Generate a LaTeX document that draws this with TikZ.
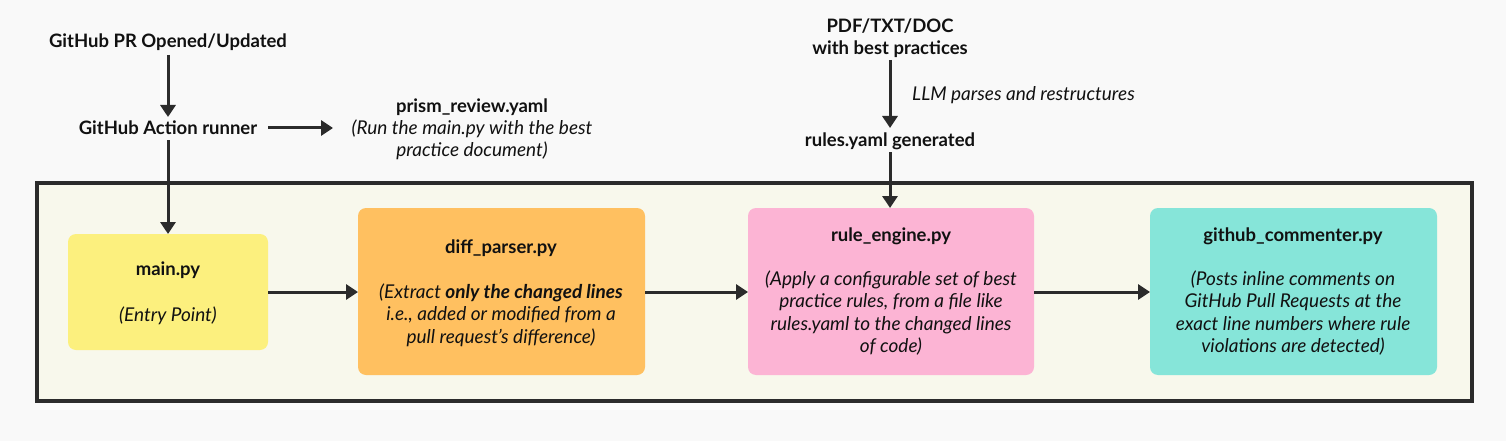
\documentclass[tikz,border=0pt]{standalone}
\usepackage{fontspec}
\setmainfont{Lato}
\usetikzlibrary{arrows.meta}
\definecolor{bgc}{HTML}{F9F9F9}
\definecolor{framec}{HTML}{2B2B2B}
\definecolor{cream}{HTML}{F8F8EC}
\definecolor{yel}{HTML}{FCF07E}
\definecolor{ora}{HTML}{FFC060}
\definecolor{pnk}{HTML}{FCB4D4}
\definecolor{tea}{HTML}{86E5D9}
\definecolor{txt}{HTML}{111111}
\tikzset{
  lbl/.style={font=\fontsize{18.5}{22}\selectfont\bfseries, text=txt, inner sep=0pt, align=center},
  itl/.style={font=\fontsize{19}{22.5}\selectfont\itshape, text=txt, inner sep=0pt, align=center},
  card/.style={rounded corners=8pt, draw=none},
  conn/.style={draw=framec, line width=3pt, -{Triangle[length=12pt,width=15pt]}},
}
\begin{document}
\begin{tikzpicture}[x=1pt,y=-1pt]
\fill[bgc] (0,0) rectangle (1506,441);
\useasboundingbox (0,0) rectangle (1506,441);
% outer frame
\draw[framec, line width=4pt, fill=cream] (37,183) rectangle (1472,401);
% cards
\fill[card, yel] (68,234) rectangle (268,350);
\fill[card, ora] (358,208) rectangle (645,375);
\fill[card, pnk] (748,208) rectangle (1034,375);
\fill[card, tea] (1150,208) rectangle (1437,375);
\coordinate (mainT) at (168,234);
\coordinate (mainR) at (268,292);
\coordinate (diffL) at (358,292);
\coordinate (diffR) at (645,292);
\coordinate (ruleL) at (748,292);
\coordinate (ruleT) at (890,208);
\coordinate (ruleR) at (1034,292);
\coordinate (ghL) at (1150,292);
% card texts
\node[lbl] (mainn) at (168,270) {main.py};
\node[itl] (mainb) at (168,316) {(Entry Point)};
\node[lbl] (difft) at (501,248) {diff\_parser.py};
\node[itl] (diffb) at (501,315) {(Extract \textbf{\itshape only the changed lines}\\ i.e., added or modified from a\\ pull request's difference)};
\node[lbl] (rulet) at (891,236) {rule\_engine.py};
\node[itl] (ruleb) at (891,313) {(Apply a configurable set of best\\ practice rules, from a file like\\ rules.yaml to the changed lines\\ of code)};
\node[lbl] (ght) at (1293,236) {github\_commenter.py};
\node[itl] (ghb) at (1293,313) {(Posts inline comments on\\ GitHub Pull Requests at the\\ exact line numbers where rule\\ violations are detected)};
% top texts
\node[lbl] (pr) at (168,42) {GitHub PR Opened/Updated};
\node[lbl] (runner) at (168,128) {GitHub Action runner};
\node[lbl] (prism) at (472,107) {prism\_review.yaml};
\node[itl] (prismb) at (472,140) {(Run the main.py with the best\\ practice document)};
\node[lbl] (pdf) at (890,38) {PDF/TXT/DOC\\ with best practices};
\node[itl, anchor=west] (llm) at (912,95) {LLM parses and restructures};
\node[lbl] (rules) at (890,141) {rules.yaml generated};
% connector end points
\coordinate (prB) at (168,55);
\coordinate (runT) at (168,117);
\coordinate (runR) at (268,128);
\coordinate (prismL) at (333,128);
\coordinate (runB) at (168,140);
\coordinate (pdfB) at (890,60);
\coordinate (rulesT) at (890,128);
\coordinate (rulesB) at (890,152);
% connectors
\draw[conn] (prB) -- (runT);
\draw[conn] (runR) -- (prismL);
\draw[conn] (runB) -- (mainT);
\draw[conn] (pdfB) -- (rulesT);
\draw[conn] (rulesB) -- (ruleT);
\draw[conn] (mainR) -- (diffL);
\draw[conn] (diffR) -- (ruleL);
\draw[conn] (ruleR) -- (ghL);
\end{tikzpicture}
\end{document}
